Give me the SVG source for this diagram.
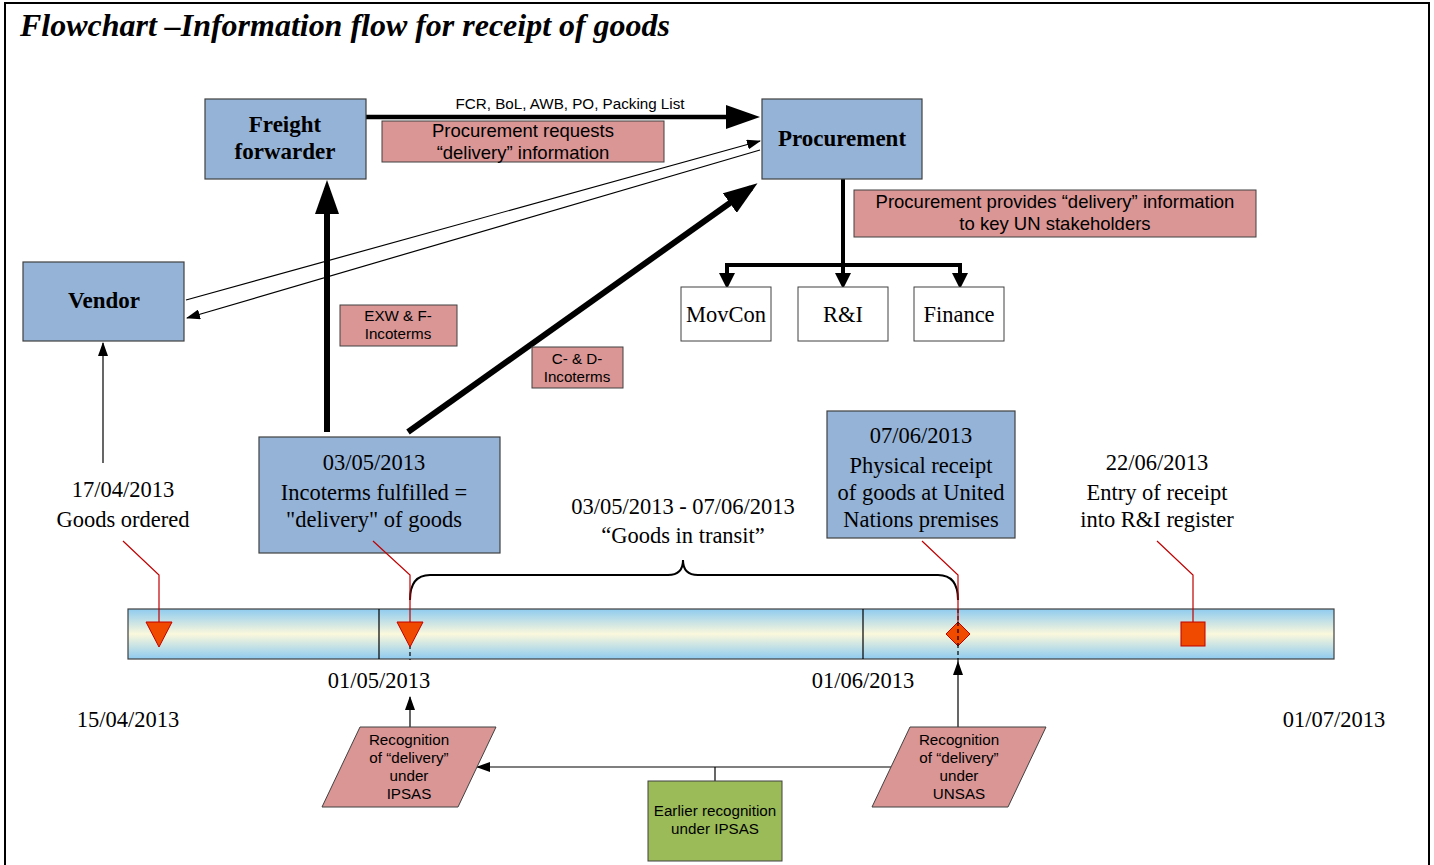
<svg xmlns="http://www.w3.org/2000/svg" width="1434" height="865" viewBox="0 0 1434 865">
<defs>
<style>
.blue{fill:#95B3D7;stroke:#404040;stroke-width:1.2}
.pink{fill:#D99694;stroke:#404040;stroke-width:1}
.white{fill:#fff;stroke:#404040;stroke-width:1}
.green{fill:#9BBB59;stroke:#404040;stroke-width:1}
.tb{font-family:"Liberation Serif",serif;font-weight:bold;font-size:23px;fill:#000;text-anchor:middle}
.t{font-family:"Liberation Serif",serif;font-size:22.5px;fill:#000;text-anchor:middle}
.a{font-family:"Liberation Sans",sans-serif;font-size:18.5px;fill:#000;text-anchor:middle}
.as{font-family:"Liberation Sans",sans-serif;font-size:15.2px;fill:#000;text-anchor:middle}
.thick{stroke:#000;fill:none}
.thin{stroke:#000;stroke-width:1.2;fill:none}
.red{stroke:#C00000;stroke-width:1.2;fill:none}
.mark{fill:#F04A00;stroke:#C00000;stroke-width:1}
</style>
<marker id="big" markerUnits="userSpaceOnUse" markerWidth="34" markerHeight="24" refX="26" refY="12" orient="auto"><path d="M0,0 L34,12 L0,24 z" fill="#000"/></marker>
<marker id="mid" markerUnits="userSpaceOnUse" markerWidth="16" markerHeight="16" refX="11" refY="8" orient="auto"><path d="M0,0 L16,8 L0,16 z" fill="#000"/></marker>
<marker id="sm" markerUnits="userSpaceOnUse" markerWidth="14" markerHeight="10" refX="13" refY="5" orient="auto"><path d="M0,0 L14,5 L0,10 z" fill="#000"/></marker>
<linearGradient id="bar" x1="0" y1="0" x2="0" y2="1">
<stop offset="0" stop-color="#8FCBEF"/>
<stop offset="0.5" stop-color="#FBF8DC"/>
<stop offset="1" stop-color="#8FCBEF"/>
</linearGradient>
</defs>
<rect x="5" y="3" width="1424" height="880" fill="#fff" stroke="#000" stroke-width="2"/>
<text x="20" y="36" font-family="'Liberation Serif',serif" font-size="31" font-weight="bold" font-style="italic" textLength="650" lengthAdjust="spacingAndGlyphs">Flowchart –Information flow for receipt of goods</text>

<g id="connectors">
<line class="thick" x1="366" y1="117" x2="752" y2="117" stroke-width="4.5" marker-end="url(#big)"/>
<text class="as" x="570" y="109" font-size="14.2">FCR, BoL, AWB, PO, Packing List</text>
<line class="thin" x1="186" y1="300" x2="760" y2="141" marker-end="url(#sm)"/>
<line class="thin" x1="760" y1="150" x2="187" y2="318" marker-end="url(#sm)"/>
<line class="thick" x1="327" y1="432" x2="327" y2="188" stroke-width="6" marker-end="url(#big)"/>
<line class="thick" x1="408" y1="432" x2="751" y2="188" stroke-width="6" marker-end="url(#big)"/>
<line class="thick" x1="843" y1="179" x2="843" y2="284" stroke-width="4" marker-end="url(#mid)"/>
<polyline class="thick" points="727,284 727,265 960,265 960,284" stroke-width="4"/>
<line class="thick" x1="727" y1="270" x2="727" y2="284" stroke-width="4" marker-end="url(#mid)"/>
<line class="thick" x1="960" y1="270" x2="960" y2="284" stroke-width="4" marker-end="url(#mid)"/>
<line class="thin" x1="103" y1="463" x2="103" y2="343" marker-end="url(#sm)"/>
<path class="thick" stroke-width="2" d="M410,600 Q410,575 430,575 L668,575 Q683,575 683,560 Q683,575 698,575 L938,575 Q958,575 958,600"/>
<line class="thin" x1="410" y1="727" x2="410" y2="697" marker-end="url(#sm)"/>
<line class="thin" x1="958" y1="727" x2="958" y2="662" marker-end="url(#sm)"/>
<line class="thin" x1="891" y1="767" x2="477" y2="767" marker-end="url(#sm)"/>
<line class="thin" x1="715" y1="767" x2="715" y2="781"/>
</g>

<g id="freight"><rect class="blue" x="205" y="99" width="161" height="80"/><text class="tb" x="285" y="132">Freight</text><text class="tb" x="285" y="159">forwarder</text></g>
<g id="procurement"><rect class="blue" x="762" y="99" width="160" height="80"/><text class="tb" x="842" y="146">Procurement</text></g>
<g id="vendor"><rect class="blue" x="23" y="262" width="161" height="79"/><text class="tb" x="104" y="308">Vendor</text></g>
<g id="lbl-requests"><rect class="pink" x="382" y="121" width="282" height="41"/><text class="a" x="523" y="137">Procurement requests</text><text class="a" x="523" y="159">“delivery” information</text></g>
<g id="lbl-provides"><rect class="pink" x="854" y="190" width="402" height="47"/><text class="a" x="1055" y="208">Procurement provides “delivery” information</text><text class="a" x="1055" y="230">to key UN stakeholders</text></g>
<g id="movcon"><rect class="white" x="681" y="287" width="90" height="54"/><text class="t" x="726" y="322">MovCon</text></g>
<g id="ri"><rect class="white" x="798" y="287" width="90" height="54"/><text class="t" x="843" y="322">R&amp;I</text></g>
<g id="finance"><rect class="white" x="914" y="287" width="90" height="54"/><text class="t" x="959" y="322">Finance</text></g>
<g id="lbl-exw"><rect class="pink" x="340" y="305" width="117" height="41"/><text class="as" x="398" y="321">EXW &amp; F-</text><text class="as" x="398" y="339">Incoterms</text></g>
<g id="lbl-cd"><rect class="pink" x="532" y="347" width="91" height="41"/><text class="as" x="577" y="364">C- &amp; D-</text><text class="as" x="577" y="382">Incoterms</text></g>

<g id="ordered"><text class="t" x="123" y="497">17/04/2013</text><text class="t" x="123" y="527">Goods ordered</text></g>
<g id="delivery"><rect class="blue" x="259" y="437" width="241" height="116"/><text class="t" x="374" y="470">03/05/2013</text><text class="t" x="374" y="500">Incoterms fulfilled =</text><text class="t" x="374" y="527">"delivery" of goods</text></g>
<g id="transit"><text class="t" x="683" y="514">03/05/2013 - 07/06/2013</text><text class="t" x="683" y="543">“Goods in transit”</text></g>
<g id="physical"><rect class="blue" x="827" y="411" width="188" height="127"/><text class="t" x="921" y="443">07/06/2013</text><text class="t" x="921" y="473">Physical receipt</text><text class="t" x="921" y="500">of goods at United</text><text class="t" x="921" y="527">Nations premises</text></g>
<g id="entry"><text class="t" x="1157" y="470">22/06/2013</text><text class="t" x="1157" y="500">Entry of receipt</text><text class="t" x="1157" y="527">into R&amp;I register</text></g>

<g id="timeline">
<rect x="128" y="609" width="1206" height="50" fill="url(#bar)" stroke="#404040" stroke-width="1.2"/>
<line class="thin" x1="379" y1="609" x2="379" y2="659"/>
<line class="thin" x1="863" y1="609" x2="863" y2="659"/>
<line x1="410" y1="645" x2="410" y2="660" stroke="#000" stroke-width="1.2" stroke-dasharray="4,3"/>
<line x1="958" y1="609" x2="958" y2="662" stroke="#000" stroke-width="1.2" stroke-dasharray="4,3"/>
<polyline class="red" points="123,541 159,575 159,622"/>
<polyline class="red" points="373,541 410,575 410,622"/>
<polyline class="red" points="922,541 958,575 958,622"/>
<polyline class="red" points="1157,541 1193,575 1193,622"/>
<polygon class="mark" points="146,622 172,622 159,647"/>
<polygon class="mark" points="397,622 423,622 410,647"/>
<polygon class="mark" points="958,622 970,634 958,646 946,634"/>
<line x1="958" y1="622" x2="958" y2="646" stroke="#000" stroke-width="1.2" stroke-dasharray="4,3"/>
<rect class="mark" x="1181" y="622" width="24" height="24"/>
<text class="t" x="379" y="688">01/05/2013</text>
<text class="t" x="863" y="688">01/06/2013</text>
<text class="t" x="128" y="727">15/04/2013</text>
<text class="t" x="1334" y="727">01/07/2013</text>
</g>

<g id="ipsas"><polygon class="pink" points="360,727 496,727 458,807 322,807"/><text class="as" x="409" y="745">Recognition</text><text class="as" x="409" y="763">of “delivery”</text><text class="as" x="409" y="781">under</text><text class="as" x="409" y="799">IPSAS</text></g>
<g id="unsas"><polygon class="pink" points="910,727 1046,727 1008,807 872,807"/><text class="as" x="959" y="745">Recognition</text><text class="as" x="959" y="763">of “delivery”</text><text class="as" x="959" y="781">under</text><text class="as" x="959" y="799">UNSAS</text></g>
<g id="earlier"><rect class="green" x="648" y="781" width="134" height="80"/><text class="as" x="715" y="816">Earlier recognition</text><text class="as" x="715" y="834">under IPSAS</text></g>
</svg>
